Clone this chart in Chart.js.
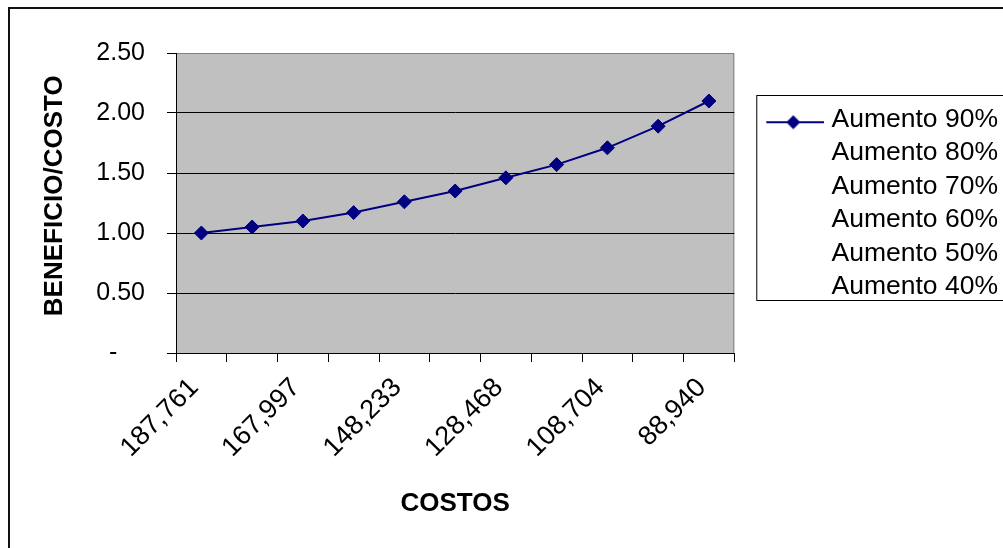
<!DOCTYPE html>
<html>
<head>
<meta charset="utf-8">
<script src="https://cdn.jsdelivr.net/npm/chart.js@4.4.1/dist/chart.umd.min.js"></script>
<style>
html,body{margin:0;padding:0;background:#fff;overflow:hidden;width:1003px;height:548px;}
#frame{position:absolute;left:8px;top:7px;width:1100px;height:600px;border-left:2px solid #111;border-top:2px solid #111;}
#wrap{position:absolute;left:0;top:0;width:1008px;height:548px;}
</style>
</head>
<body>
<div id="frame"></div>
<div id="wrap"><canvas id="c" width="1008" height="548"></canvas></div>
<script>
// ---- data ----
const costLabels = ['187,761','177,879','167,997','158,115','148,233','138,351','128,468','118,586','108,704','98,822','88,940'];
const aumento90 = [1.00,1.05,1.10,1.17,1.26,1.35,1.46,1.57,1.71,1.89,2.10];
const aumento80 = [];
const aumento70 = [];
const aumento60 = [];
const aumento50 = [];
const aumento40 = [];
const seriesNames = ['Aumento 90%','Aumento 80%','Aumento 70%','Aumento 60%','Aumento 50%','Aumento 40%'];
const yTickLabels = ['-    ','0.50','1.00','1.50','2.00','2.50'];
const xTitle = 'COSTOS';
const yTitle = '  BENEFICIO/COSTO';

const FONT = "'Liberation Sans', Arial, sans-serif";
const NAVY = '#000080';

// legend swatch images
function makeSwatch(withMark) {
  const c = document.createElement('canvas');
  c.width = 89; c.height = 26;
  if (withMark) {
    const g = c.getContext('2d');
    g.strokeStyle = NAVY; g.lineWidth = 2;
    g.beginPath(); g.moveTo(31, 16); g.lineTo(89, 16); g.stroke();
    g.fillStyle = NAVY;
    g.beginPath(); g.moveTo(58, 9); g.lineTo(65, 16); g.lineTo(58, 23); g.lineTo(51, 16); g.closePath(); g.fill();
  }
  return c;
}
const swatchOn = makeSwatch(true);
const swatchOff = makeSwatch(false);

const allSeries = [aumento90, aumento80, aumento70, aumento60, aumento50, aumento40];

const plotBg = {
  id: 'plotBg',
  beforeDraw(chart) {
    const {ctx, chartArea: a} = chart;
    ctx.save();
    ctx.fillStyle = '#c0c0c0';
    ctx.fillRect(a.left, a.top, a.right - a.left, a.bottom - a.top);
    ctx.strokeStyle = '#808080';
    ctx.lineWidth = 1;
    ctx.strokeRect(a.left + 0.5, a.top + 0.5, a.right - a.left - 1, a.bottom - a.top);
    ctx.restore();
  },
  afterDraw(chart) {
    const {ctx} = chart;
    const lg = chart.legend;
    ctx.save();
    ctx.strokeStyle = '#000';
    ctx.lineWidth = 1;
    ctx.strokeRect(lg.left + 22.5, 95.5, 400, 205);
    ctx.restore();
  }
};

new Chart(document.getElementById('c'), {
  type: 'line',
  data: {
    labels: costLabels,
    datasets: allSeries.map((d, i) => ({
      label: seriesNames[i],
      data: d,
      borderColor: NAVY,
      backgroundColor: NAVY,
      borderWidth: 2,
      pointStyle: 'rectRot',
      pointRadius: 7,
      pointBorderWidth: 1,
      pointBackgroundColor: NAVY,
      pointBorderColor: NAVY,
      tension: 0,
      fill: false
    }))
  },
  options: {
    responsive: false,
    animation: false,
    devicePixelRatio: 1,
    layout: { padding: { top: 53, left: 10, right: 0, bottom: 0 } },
    plugins: {
      tooltip: { enabled: false },
      legend: {
        position: 'right',
        fullSize: false,
        align: 'center',
        maxWidth: 400,
        labels: {
          usePointStyle: true,
          pointStyleWidth: 77,
          padding: 7,
          color: '#000',
          font: { family: FONT, size: 26.5 },
          generateLabels: (chart) => chart.data.datasets.map((ds, i) => ({
            text: ds.label,
            fillStyle: 'rgba(0,0,0,0)',
            strokeStyle: 'rgba(0,0,0,0)',
            lineWidth: 0,
            pointStyle: ds.data.length ? swatchOn : swatchOff,
            hidden: false,
            datasetIndex: i,
            fontColor: '#000'
          }))
        }
      }
    },
    scales: {
      x: {
        type: 'category',
        offset: true,
        afterFit: (s) => { s.height = 195; },
        grid: { offset: true, drawOnChartArea: false, drawTicks: true, tickLength: 9, color: '#000', tickColor: '#000' },
        border: { display: true, color: '#000', width: 1 },
        ticks: {
          autoSkip: false,
          maxRotation: 45,
          minRotation: 45,
          padding: 10,
          labelOffset: -7,
          color: '#000',
          font: { family: FONT, size: 27 },
          callback: (v, i) => (i % 2 === 0 ? costLabels[i] : '')
        },
        title: {
          display: true,
          text: xTitle,
          color: '#000',
          font: { family: FONT, size: 26, weight: 'bold' },
          padding: { top: 0, bottom: 29 }
        }
      },
      y: {
        min: 0,
        max: 2.5,
        afterFit: (s) => { s.width = 166; },
        grid: {
          drawTicks: true,
          tickLength: 9,
          color: (c) => (c.tick && c.tick.value === 2.5 ? 'rgba(0,0,0,0)' : '#000'),
          tickColor: '#000'
        },
        border: { display: true, color: '#000', width: 1 },
        ticks: {
          stepSize: 0.5,
          padding: 22,
          color: '#000',
          font: { family: FONT, size: 25 },
          callback: (v, i) => yTickLabels[i]
        },
        title: {
          display: true,
          text: yTitle,
          color: '#000',
          font: { family: FONT, size: 26, weight: 'bold' },
          padding: { top: 29, bottom: 0 }
        }
      }
    }
  },
  plugins: [plotBg]
});
</script>
</body>
</html>
